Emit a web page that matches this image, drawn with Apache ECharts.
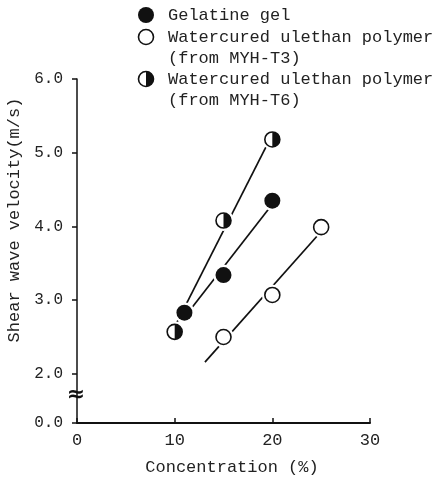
<!DOCTYPE html>
<html>
<head>
<meta charset="utf-8">
<script src="https://cdn.jsdelivr.net/npm/echarts@6/dist/echarts.min.js"></script>
<style>
    html, body { margin: 0; padding: 0; background: #fff; }
    #chart { width: 437px; height: 477px; }
</style>
</head>
<body>
<div id="chart"></div>
<script>
    // concentration (%) vs shear wave velocity (m/s)
    let gelatineX = [11, 15, 20];
    let gelatineY = [2.83, 3.34, 4.35];
    let t3X = [15, 20, 25];
    let t3Y = [2.50, 3.07, 3.99];
    let t6X = [10, 15, 20];
    let t6Y = [2.57, 4.08, 5.18];
    // x span of each fitted line
    let gelatineFit = [11, 20];
    let t3Fit = [13.1, 25];
    let t6Fit = [10, 20];
    let xTicks = [0, 10, 20, 30];
    let yTicks = [4 / 3, 2, 3, 4, 5, 6]; // first one sits under the axis break and reads 0.0
    let legendNames = [
        'Gelatine gel',
        'Watercured ulethan polymer\n(from MYH-T3)',
        'Watercured ulethan polymer\n(from MYH-T6)'
    ];

    const FONT = '"Liberation Mono", "DejaVu Sans Mono", monospace';

    function pairs(xs, ys) {
        let out = [];
        for (let i = 0; i < xs.length; i++) out.push([xs[i], ys[i]]);
        return out;
    }

    // least squares line through the points, drawn over the given x span
    function fitLine(xs, ys, span) {
        let n = xs.length, mx = 0, my = 0;
        for (let i = 0; i < n; i++) { mx += xs[i]; my += ys[i]; }
        mx /= n; my /= n;
        let sxy = 0, sxx = 0;
        for (let i = 0; i < n; i++) {
            sxy += (xs[i] - mx) * (ys[i] - my);
            sxx += (xs[i] - mx) * (xs[i] - mx);
        }
        let b = sxy / sxx, a = my - b * mx;
        return span.map(x => [x, a + b * x]);
    }

    let chartDom = document.getElementById('chart');
    let myChart = echarts.init(chartDom);

    let lineStyle = { color: '#111', width: 1.7 };
    let halfPath = 'path://M0,0 A10,10 0 0 1 0,20 Z';

    function fitSeries(data) {
        return {
            type: 'line', data: data, symbol: 'none', silent: true, z: 1,
            lineStyle: lineStyle, animation: false
        };
    }

    let allPoints = pairs(gelatineX, gelatineY).concat(pairs(t3X, t3Y), pairs(t6X, t6Y));

    let option = {
        backgroundColor: '#fff',
        animation: false,
        grid: { left: 77, top: 79, width: 293, height: 344, outerBoundsMode: 'none', containLabel: false },
        xAxis: {
            type: 'value',
            min: 0, max: 30, interval: 10,
            name: 'Concentration (%)',
            nameLocation: 'middle',
            nameGap: 36,
            nameTextStyle: { fontFamily: FONT, fontSize: 17, color: '#222', padding: [0, 0, 0, 17] },
            axisLine: { lineStyle: { color: '#111', width: 2 } },
            axisTick: { inside: true, length: 5, lineStyle: { color: '#111', width: 1.5 } },
            axisLabel: {
                fontFamily: FONT, fontSize: 17, color: '#222', margin: 9,
                customValues: xTicks
            },
            splitLine: { show: false }
        },
        yAxis: {
            type: 'value',
            min: yTicks[0], max: 6,
            name: 'Shear wave velocity(m/s)',
            nameLocation: 'middle',
            nameGap: 50,
            nameRotate: 90,
            nameTextStyle: { fontFamily: FONT, fontSize: 17, color: '#222', padding: [0, 0, 0, 62] },
            axisLine: { lineStyle: { color: '#111', width: 1.5 } },
            axisTick: { length: 5, lineStyle: { color: '#111', width: 1.5 }, customValues: yTicks },
            axisLabel: {
                fontFamily: FONT, fontSize: 16, color: '#222', margin: 14,
                customValues: yTicks,
                formatter: v => (v < 1.5 ? '0.0' : v.toFixed(1))
            },
            splitLine: { show: false }
        },
        series: [
            fitSeries(fitLine(gelatineX, gelatineY, gelatineFit)),
            fitSeries(fitLine(t3X, t3Y, t3Fit)),
            fitSeries(fitLine(t6X, t6Y, t6Fit)),
            {
                // white ring so the fitted lines stop short of the markers
                type: 'scatter', data: allPoints, symbolSize: 21, z: 2, silent: true,
                itemStyle: { color: '#fff', opacity: 1 }
            },
            {
                name: legendNames[0], type: 'scatter', data: pairs(gelatineX, gelatineY),
                symbolSize: 16, z: 3, itemStyle: { color: '#111', opacity: 1 }
            },
            {
                name: legendNames[1], type: 'scatter', data: pairs(t3X, t3Y),
                symbolSize: 15, z: 3,
                itemStyle: { color: '#fff', borderColor: '#111', borderWidth: 1.6, opacity: 1 }
            },
            {
                name: legendNames[2], type: 'scatter', data: pairs(t6X, t6Y),
                symbolSize: 15, z: 3,
                itemStyle: { color: '#fff', borderColor: '#111', borderWidth: 1.6, opacity: 1 }
            },
            {
                type: 'scatter', data: pairs(t6X, t6Y), z: 4, silent: true,
                symbol: halfPath, symbolSize: [7.5, 15], symbolOffset: [3.75, 0],
                symbolKeepAspect: false,
                itemStyle: { color: '#111', opacity: 1 }
            }
        ]
    };

    option && myChart.setOption(option);

    // legend block and axis break mark
    let legendText = { fontFamily: FONT, fontSize: 17, fill: '#222', lineHeight: 21 };
    let breakPos = myChart.convertToPixel({ gridIndex: 0 }, [0, 1.71]);
    myChart.setOption({
        graphic: [
            { type: 'circle', shape: { cx: 146, cy: 15, r: 8 }, style: { fill: '#111' } },
            { type: 'text', x: 168, y: 5, style: Object.assign({ text: legendNames[0] }, legendText) },
            { type: 'circle', shape: { cx: 146, cy: 37, r: 7.5 }, style: { fill: '#fff', stroke: '#111', lineWidth: 1.6 } },
            { type: 'text', x: 168, y: 27, style: Object.assign({ text: legendNames[1] }, legendText) },
            { type: 'circle', shape: { cx: 146, cy: 79, r: 7.5 }, style: { fill: '#fff', stroke: '#111', lineWidth: 1.6 } },
            {
                type: 'sector', z: 10,
                shape: { cx: 146, cy: 79, r: 7.5, startAngle: -Math.PI / 2, endAngle: Math.PI / 2, clockwise: true },
                style: { fill: '#111' }
            },
            { type: 'text', x: 168, y: 69, style: Object.assign({ text: legendNames[2] }, legendText) },
            {
                type: 'text', x: breakPos[0] - 1, y: breakPos[1], z: 10,
                style: {
                    text: '≈', fontFamily: '"DejaVu Sans"', fontSize: 22, fontWeight: 'bold',
                    fill: '#111', align: 'center', verticalAlign: 'middle'
                }
            }
        ]
    });
</script>
</body>
</html>
